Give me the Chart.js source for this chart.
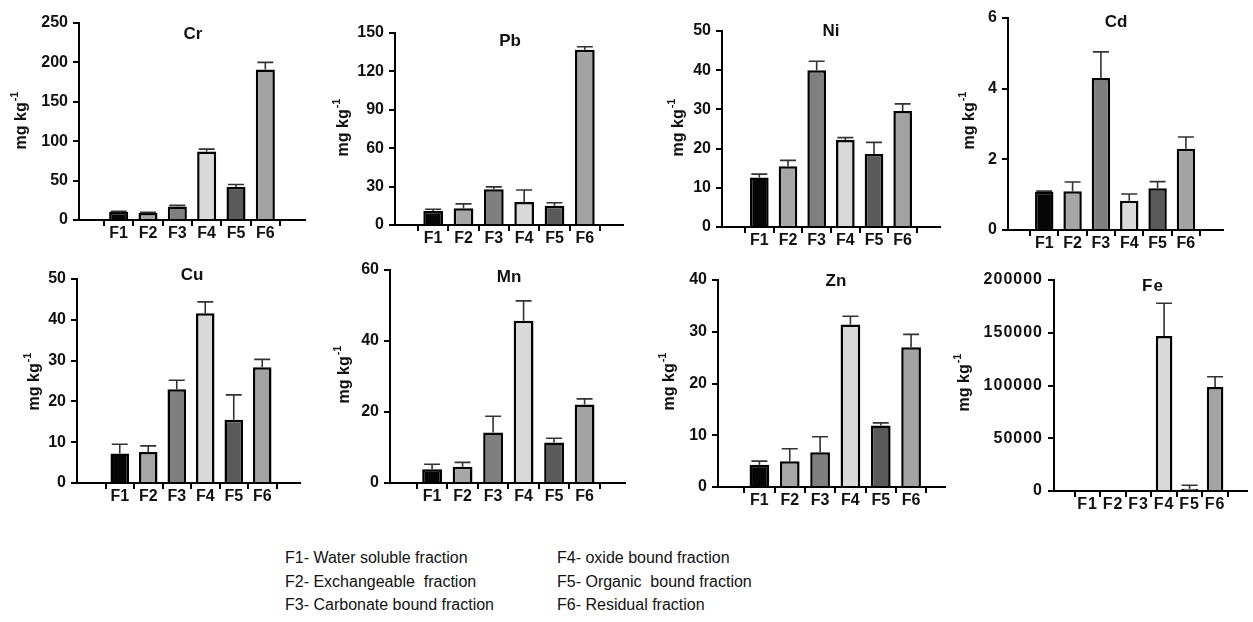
<!DOCTYPE html>
<html lang="en">
<head>
<meta charset="UTF-8">
<title>Metal fractions</title>
<script src="https://cdn.jsdelivr.net/npm/chart.js"></script>
<style>
  body {
    margin: 0;
    background: #ffffff;
    width: 1253px;
    height: 622px;
    overflow: hidden;
    position: relative;
  }
  canvas.panel {
    position: absolute;
    left: 0;
    top: 0;
  }
  .key {
    position: absolute;
    font-family: 'Liberation Sans', Arial, sans-serif;
    font-size: 16px;
    line-height: 23.5px;
    color: #111;
  }
  .key div {
    white-space: pre;
  }
</style>
</head>
<body>

<div class="key" style="left:285px; top:546px">
  <div>F1- Water soluble fraction</div>
  <div>F2- Exchangeable  fraction</div>
  <div>F3- Carbonate bound fraction</div>
</div>
<div class="key" style="left:557px; top:546px">
  <div>F4- oxide bound fraction</div>
  <div>F5- Organic  bound fraction</div>
  <div>F6- Residual fraction</div>
</div>

<script>
  // fractions F1..F6, mean and error (upper bar) per metal, mg/kg
  const fractions = ['F1', 'F2', 'F3', 'F4', 'F5', 'F6'];

  const crMean = [10, 9, 17, 87, 42, 191];
  const crErr  = [1, 0.7, 1.5, 3, 3, 9];
  const pbMean = [11, 13, 28, 18, 15, 137];
  const pbErr  = [1.3, 3.5, 1.8, 9.3, 2.4, 2.2];
  const niMean = [12.6, 15.5, 40, 22.2, 18.6, 29.6];
  const niErr  = [0.9, 1.5, 2.3, 0.6, 3, 1.8];
  const cdMean = [1.08, 1.1, 4.3, 0.83, 1.18, 2.3];
  const cdErr  = [0.02, 0.26, 0.74, 0.19, 0.19, 0.33];
  const cuMean = [7.2, 7.6, 23, 41.6, 15.5, 28.4];
  const cuErr  = [2.3, 1.5, 2.2, 2.8, 6.1, 1.9];
  const mnMean = [3.9, 4.6, 14.2, 45.7, 11.4, 22.1];
  const mnErr  = [1.4, 1.2, 4.6, 5.6, 1.2, 1.6];
  const znMean = [4.3, 5.0, 6.7, 31.4, 11.9, 27.0];
  const znErr  = [0.7, 2.4, 3.0, 1.6, 0.5, 2.5];
  const feMean = [0, 0, 0, 147000, 2200, 98600];
  const feErr  = [0, 0, 0, 31000, 3200, 9700];

  const barColors = ['#060606', '#a6a6a6', '#7f7f7f', '#d9d9d9', '#5a5a5a', '#a3a3a3'];
  const ink = '#111';
  const face = '"Liberation Sans", Arial, sans-serif';

  // box = [axis left, top tick, axis right, zero line]; firstX/lastX = F1/F6 centres
  const panels = [
    { name: 'Cr', mean: crMean, err: crErr, max: 250, step: 50, box: [79, 23, 305, 220], firstX: 104, lastX: 280, titleAt: [193, 34], unitAt: [26, 121] },
    { name: 'Pb', mean: pbMean, err: pbErr, max: 150, step: 30, box: [395, 33, 623, 225], firstX: 418, lastX: 600, titleAt: [510, 41], unitAt: [348, 128] },
    { name: 'Ni', mean: niMean, err: niErr, max: 50, step: 10, box: [722, 31, 940, 227], firstX: 745, lastX: 917, titleAt: [831, 31], unitAt: [683, 128] },
    { name: 'Cd', mean: cdMean, err: cdErr, max: 6, step: 2, box: [1008, 18, 1223, 230], firstX: 1030, lastX: 1200, titleAt: [1116, 22], unitAt: [974, 121] },
    { name: 'Cu', mean: cuMean, err: cuErr, max: 50, step: 10, box: [77, 279, 300, 483], firstX: 106, lastX: 277, titleAt: [192, 275], unitAt: [39, 382] },
    { name: 'Mn', mean: mnMean, err: mnErr, max: 60, step: 20, box: [390, 270, 625, 483], firstX: 417, lastX: 600, titleAt: [509, 277], unitAt: [349, 375] },
    { name: 'Zn', mean: znMean, err: znErr, max: 40, step: 10, box: [718, 280, 945, 487], firstX: 745, lastX: 927, titleAt: [836, 281], unitAt: [674, 382] },
    { name: 'Fe', mean: feMean, err: feErr, max: 200000, step: 50000, box: [1054, 280, 1247, 491], firstX: 1075, lastX: 1228, titleAt: [1153, 286], unitAt: [969, 383], spacing: '1px' }
  ];

  // upward-only error bars with a cap
  const errorBars = {
    id: 'errorBars',
    afterDatasetsDraw(chart, args, opts) {
      const { ctx, scales: { x, y } } = chart;
      const pts = chart.data.datasets[0].data;
      ctx.save();
      ctx.strokeStyle = '#333';
      ctx.lineWidth = 1.6;
      opts.errors.forEach((e, i) => {
        if (!e) return;
        const px = x.getPixelForValue(i);
        const y0 = y.getPixelForValue(pts[i].y);
        const y1 = y.getPixelForValue(pts[i].y + e);
        ctx.beginPath();
        ctx.moveTo(px, y0);
        ctx.lineTo(px, y1);
        ctx.moveTo(px - 8, y1);
        ctx.lineTo(px + 8, y1);
        ctx.stroke();
      });
      ctx.restore();
    }
  };

  // metal name inside the plot and the rotated "mg kg-1" unit label
  const panelText = {
    id: 'panelText',
    beforeDraw(chart, args, opts) {
      chart.ctx.letterSpacing = opts.spacing || '0px';
    },
    afterDraw(chart, args, opts) {
      const ctx = chart.ctx;
      ctx.save();
      ctx.fillStyle = ink;
      ctx.font = 'bold 17px ' + face;
      ctx.textAlign = 'center';
      ctx.textBaseline = 'middle';
      ctx.fillText(opts.title, opts.titleAt[0], opts.titleAt[1]);

      ctx.translate(opts.unitAt[0], opts.unitAt[1]);
      ctx.rotate(-Math.PI / 2);
      ctx.textAlign = 'left';
      ctx.textBaseline = 'alphabetic';
      ctx.letterSpacing = '0px';
      const main = 'mg kg', sup = '-1';
      ctx.font = 'bold 16px ' + face;
      const w1 = ctx.measureText(main).width;
      ctx.font = 'bold 11px ' + face;
      const w2 = ctx.measureText(sup).width;
      const x0 = -(w1 + w2) / 2;
      ctx.font = 'bold 16px ' + face;
      ctx.fillText(main, x0, 0);
      ctx.font = 'bold 11px ' + face;
      ctx.fillText(sup, x0 + w1 + 1, -8);
      ctx.restore();
    }
  };

  const tickFont = { family: face, size: 16, weight: 'bold', lineHeight: 1 };
  const axisGrid = { drawOnChartArea: false, drawTicks: true, tickLength: 6, color: '#000', lineWidth: 2 };
  const axisBorder = { display: true, color: '#000', width: 2 };

  panels.forEach(p => {
    const cv = document.createElement('canvas');
    cv.className = 'panel';
    cv.width = 1253;
    cv.height = 622;
    document.body.appendChild(cv);

    const [L, T, R, B] = p.box;
    const gap = (p.lastX - p.firstX) / (fractions.length - 1);

    new Chart(cv, {
      type: 'bar',
      data: {
        datasets: [{
          data: p.mean.map((v, i) => ({ x: i, y: v })),
          backgroundColor: barColors,
          borderColor: '#000',
          borderWidth: 2.5,
          borderSkipped: 'start',
          barPercentage: 0.65,
          categoryPercentage: 1
        }]
      },
      options: {
        responsive: false,
        animation: false,
        devicePixelRatio: 1,
        layout: { padding: { left: 0, top: T, right: 1253 - R, bottom: 622 - B - 30 } },
        plugins: {
          legend: { display: false },
          tooltip: { enabled: false },
          errorBars: { errors: p.err },
          panelText: { title: p.name, titleAt: p.titleAt, unitAt: p.unitAt, spacing: p.spacing }
        },
        scales: {
          x: {
            type: 'linear',
            min: -(p.firstX - L) / gap,
            max: fractions.length - 1 + (R - p.lastX) / gap,
            afterFit: s => { s.height = 30; },
            afterBuildTicks: s => { s.ticks = fractions.map((_, i) => ({ value: i })); },
            ticks: {
              callback: v => fractions[v],
              font: tickFont,
              color: ink,
              padding: 0,
              maxRotation: 0,
              autoSkip: false
            },
            grid: axisGrid,
            border: axisBorder
          },
          y: {
            min: 0,
            max: p.max,
            afterFit: s => { s.width = L; },
            ticks: {
              stepSize: p.step,
              callback: v => String(v),
              font: tickFont,
              color: ink,
              padding: 5
            },
            grid: axisGrid,
            border: axisBorder
          }
        }
      },
      plugins: [errorBars, panelText]
    });
  });
</script>

</body>
</html>
